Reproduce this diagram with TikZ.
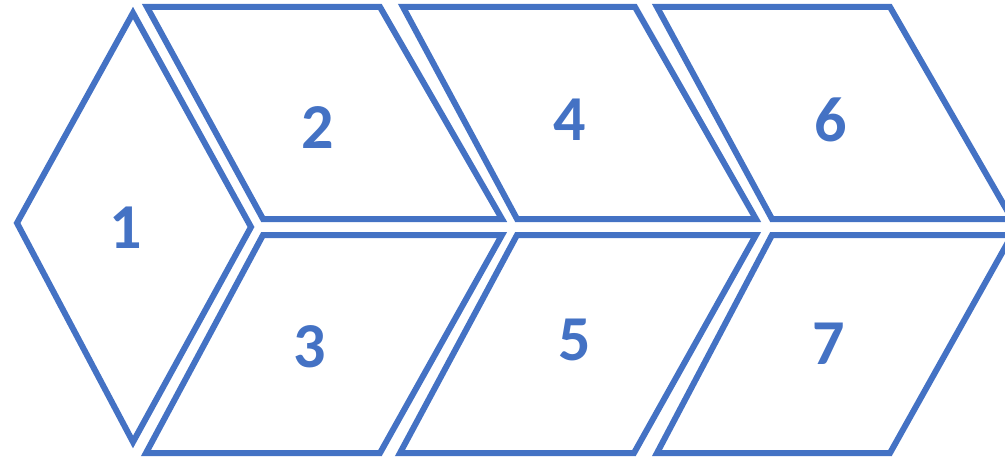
\documentclass[tikz,border=0pt]{standalone}
\usepackage{fontspec}
\setmainfont{Carlito}
\definecolor{shapeblue}{HTML}{4472C4}
\tikzset{
  facet/.style={draw=shapeblue, line width=6pt, line join=miter},
  num/.style={text=shapeblue, font=\fontsize{64}{64}\selectfont\bfseries, inner sep=0pt}
}
\begin{document}
\begin{tikzpicture}[x=1pt,y=-1pt]
\useasboundingbox (0,0) rectangle (1005,460);
\begin{scope}
\clip (0,0) rectangle (1005,460);
% shape 1 (rhombus)
\draw[facet] (133,13) -- (17,223) -- (133,442) -- (251,227) -- cycle;
% upper row
\draw[facet] (147,7) -- (380,7) -- (502,219) -- (263,219) -- cycle;
\draw[facet] (403,7) -- (635,7) -- (756,219) -- (517,219) -- cycle;
\draw[facet] (657,7) -- (890,7) -- (1012,219) -- (772,219) -- cycle;
% lower row
\draw[facet] (263,235) -- (502,235) -- (380,453) -- (146,453) -- cycle;
\draw[facet] (517,235) -- (756,235) -- (634,453) -- (400,453) -- cycle;
\draw[facet] (772,235) -- (1012,235) -- (890,453) -- (657,453) -- cycle;
\end{scope}
\node[num] (n1) at (126,228) {1};
\node[num] (n2) at (318,128) {2};
\node[num] (n3) at (310,347) {3};
\node[num] (n4) at (570,120) {4};
\node[num] (n5) at (575,340) {5};
\node[num] (n6) at (831,120) {6};
\node[num] (n7) at (829,344) {7};
\end{tikzpicture}
\end{document}
